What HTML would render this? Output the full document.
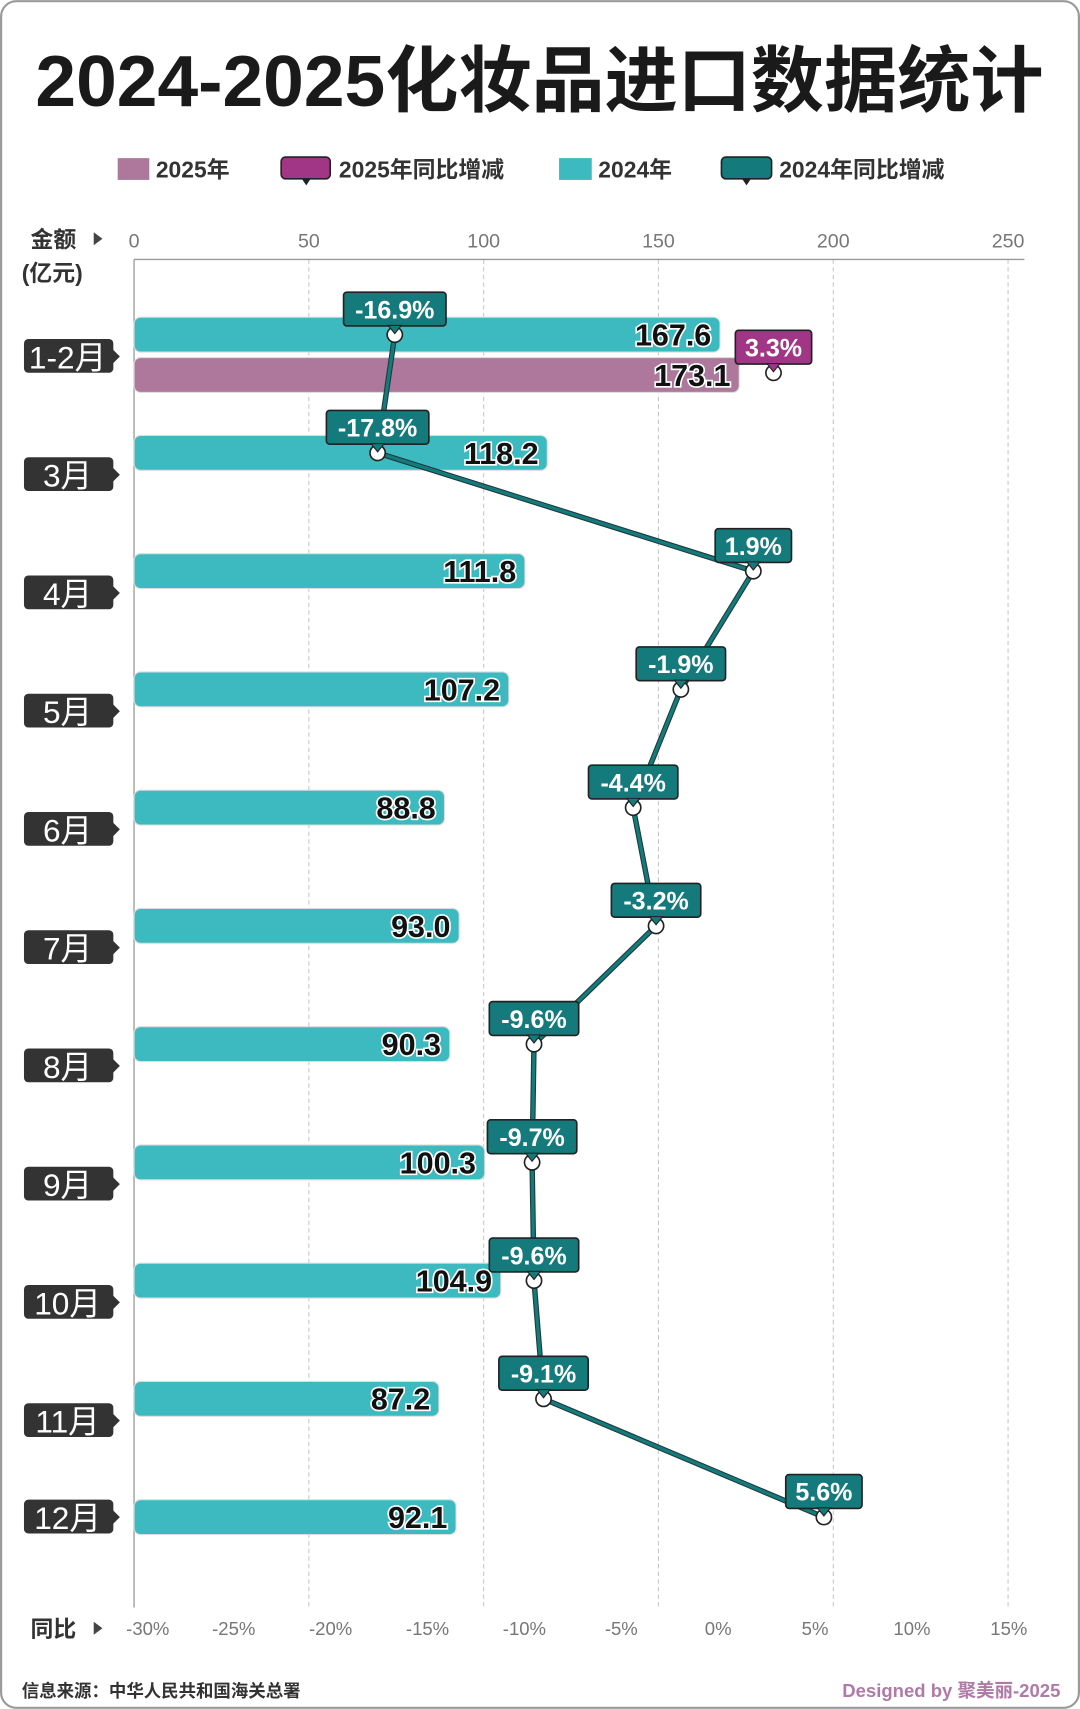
<!DOCTYPE html>
<html><head><meta charset="utf-8"><style>
html,body{margin:0;padding:0;background:#fff;}
svg{display:block;}
text{font-family:"Liberation Sans","Noto Sans CJK SC",sans-serif;}
.nar{font-family:"Liberation Sans Narrow","Liberation Sans","Noto Sans CJK SC",sans-serif;}
</style></head><body>
<svg id="chart" width="1080" height="1709" viewBox="0 0 991 1568" xmlns="http://www.w3.org/2000/svg">
<rect x="1" y="1" width="989" height="1566" rx="14" fill="#fff" stroke="#9a9a9a" stroke-width="2"/>
<text x="495" y="97" text-anchor="middle" font-size="66" font-weight="bold" fill="#1a1a1a" textLength="925" lengthAdjust="spacingAndGlyphs">2024-2025化妆品进口数据统计</text>
<g>
 <g><rect x="108" y="145" width="29" height="20" fill="#ad789c"/><text x="143" y="163" font-size="21" font-weight="bold" fill="#333">2025年</text></g>
 <g><rect x="258" y="144" width="45" height="20" rx="4" fill="#a13686" stroke="#222" stroke-width="1.5"/><path d="M277 164 L281 170 L285 164Z" fill="#222"/><text x="311" y="163" font-size="21" font-weight="bold" fill="#333">2025年同比增减</text></g>
 <g><rect x="513" y="145" width="30" height="20" fill="#3cbac0"/><text x="549" y="163" font-size="21" font-weight="bold" fill="#333">2024年</text></g>
 <g><rect x="662" y="144" width="46" height="20" rx="4" fill="#157a7c" stroke="#222" stroke-width="1.5"/><path d="M681 164 L685 170 L689 164Z" fill="#222"/><text x="715" y="163" font-size="21" font-weight="bold" fill="#333">2024年同比增减</text></g>
</g>
<text x="28" y="227" font-size="21" font-weight="bold" fill="#333">金额</text>
<path d="M86 213 L94 219 L86 225Z" fill="#444"/>
<text x="20" y="258" font-size="21" font-weight="bold" fill="#333">(亿元)</text>
<text x="28" y="1502" font-size="21" font-weight="bold" fill="#333">同比</text>
<path d="M86 1488 L94 1494 L86 1500Z" fill="#444"/>
<g id="grid"></g><g id="bars"></g><g id="months"></g><g id="line"></g><g id="callouts"></g>
<text x="20" y="1557" font-size="16" font-weight="bold" fill="#333">信息来源：中华人民共和国海关总署</text>
<text x="973" y="1557" text-anchor="end" font-size="17" font-weight="bold" fill="#b07aa8">Designed by 聚美丽-2025</text>
</svg>
<script>
const months=["1-2月","3月","4月","5月","6月","7月","8月","9月","10月","11月","12月"];
const values2024=[167.6,118.2,111.8,107.2,88.8,93.0,90.3,100.3,104.9,87.2,92.1];
const yoy2024=[-16.9,-17.8,1.9,-1.9,-4.4,-3.2,-9.6,-9.7,-9.6,-9.1,5.6];
const values2025=[173.1];
const yoy2025=[3.3];
const amountTicks=[0,50,100,150,200,250];
const pctTicks=[-30,-25,-20,-15,-10,-5,0,5,10,15];

const NS="http://www.w3.org/2000/svg";
function el(tag,attrs,parent,txt){const e=document.createElementNS(NS,tag);for(const k in attrs)e.setAttribute(k,attrs[k]);if(txt!==undefined)e.textContent=txt;parent.appendChild(e);return e;}
const xA=v=>123+v*(802/250);
const xP=p=>658+p*17.5;
const xT=p=>659+p*(88.9/5);
const rowY=i=>307+i*108.5;
const grid=document.getElementById('grid'),bars=document.getElementById('bars'),mG=document.getElementById('months'),lineG=document.getElementById('line'),cG=document.getElementById('callouts');

amountTicks.forEach((t,i)=>{
 if(i>0){const g=el('line',{x1:xA(t),x2:xA(t),y1:238,y2:1475,stroke:'#c8c8c8','stroke-dasharray':'4 3'},grid);
 
 }
 const tx=el('text',{x:xA(t),y:227,'text-anchor':'middle','font-size':18,fill:'#777'},grid,String(t));
 
 
});
el('line',{x1:123,x2:940,y1:238,y2:238,stroke:'#999','stroke-width':1.2},grid);
el('line',{x1:123,x2:123,y1:238,y2:1475,stroke:'#999','stroke-width':1.2},grid);
pctTicks.forEach(t=>{
 const tx=el('text',{x:xT(t)-(t===-30?-10:0),y:1500,'text-anchor':'middle','font-size':17,fill:'#777',class:'nar'},grid,t+'%');
 
 
});

function bar(v,y,color,name){
 const g=el('g',{},bars);
 
 
 el('rect',{x:123,y:y-16,width:xA(v)-123,height:32,rx:6,fill:color,stroke:'#ddd','stroke-width':1},g);
 el('text',{x:xA(v)-8,y:y+10,'text-anchor':'end','font-size':28,'font-weight':'bold',fill:'#111',stroke:'#fff','stroke-width':3,'paint-order':'stroke',class:'nar'},g,v.toFixed(1));
}
values2024.forEach((v,i)=>bar(v,rowY(i),'#3cbac0','bar-2024-'+i));
values2025.forEach((v,i)=>bar(v,rowY(i)+37,'#ad789c','bar-2025-'+i));

months.forEach((m,i)=>{
 const y=rowY(i)+(i===months.length-1?0:20);
 const g=el('g',{},mG);
 
 
 el('rect',{x:22,y:y-16,width:82,height:31,rx:4,fill:'#333'},g);
 el('path',{d:`M103 ${y-7} L110 ${y} L103 ${y+7}Z`,fill:'#333'},g);
 el('text',{x:62,y:y+11,'text-anchor':'middle','font-size':29,fill:'#fff',class:'nar'},g,m);
});

const pts=yoy2024.map((p,i)=>[xP(p),rowY(i)]);
const d='M'+pts.map(p=>p.join(' ')).join(' L');
el('path',{d,fill:'none',stroke:'#1d3b3c','stroke-width':5,'stroke-linejoin':'round'},lineG);
const ln=el('path',{d,fill:'none',stroke:'#157a7c','stroke-width':3,'stroke-linejoin':'round'},lineG);



function callout(x,y,p,color,name){
 const g=el('g',{},cG);
 
 
 el('circle',{cx:x,cy:y,r:7,fill:'#fff',stroke:'#222','stroke-width':1.5},g);
 const t=p.toFixed(1)+'%';
 const w=Math.max(62,t.length*12+22);
 el('rect',{x:x-w/2,y:y-39,width:w,height:31,rx:3,fill:color,stroke:'#222','stroke-width':1.5},g);
 el('path',{d:`M${x-6} ${y-8.5} L${x} ${y-1} L${x+6} ${y-8.5}Z`,fill:color,stroke:'#222','stroke-width':1},g);
 el('text',{x:x,y:y-15,'text-anchor':'middle','font-size':23,'font-weight':'bold',fill:'#fff',class:'nar'},g,t);
}
pts.forEach((pt,i)=>callout(pt[0],pt[1],yoy2024[i],'#157a7c','yoy-2024-point-'+i));
yoy2025.forEach((p,i)=>callout(xP(p)-6,rowY(i)+35,p,'#a13686','yoy-2025-point-'+i));
</script>
</body></html>
